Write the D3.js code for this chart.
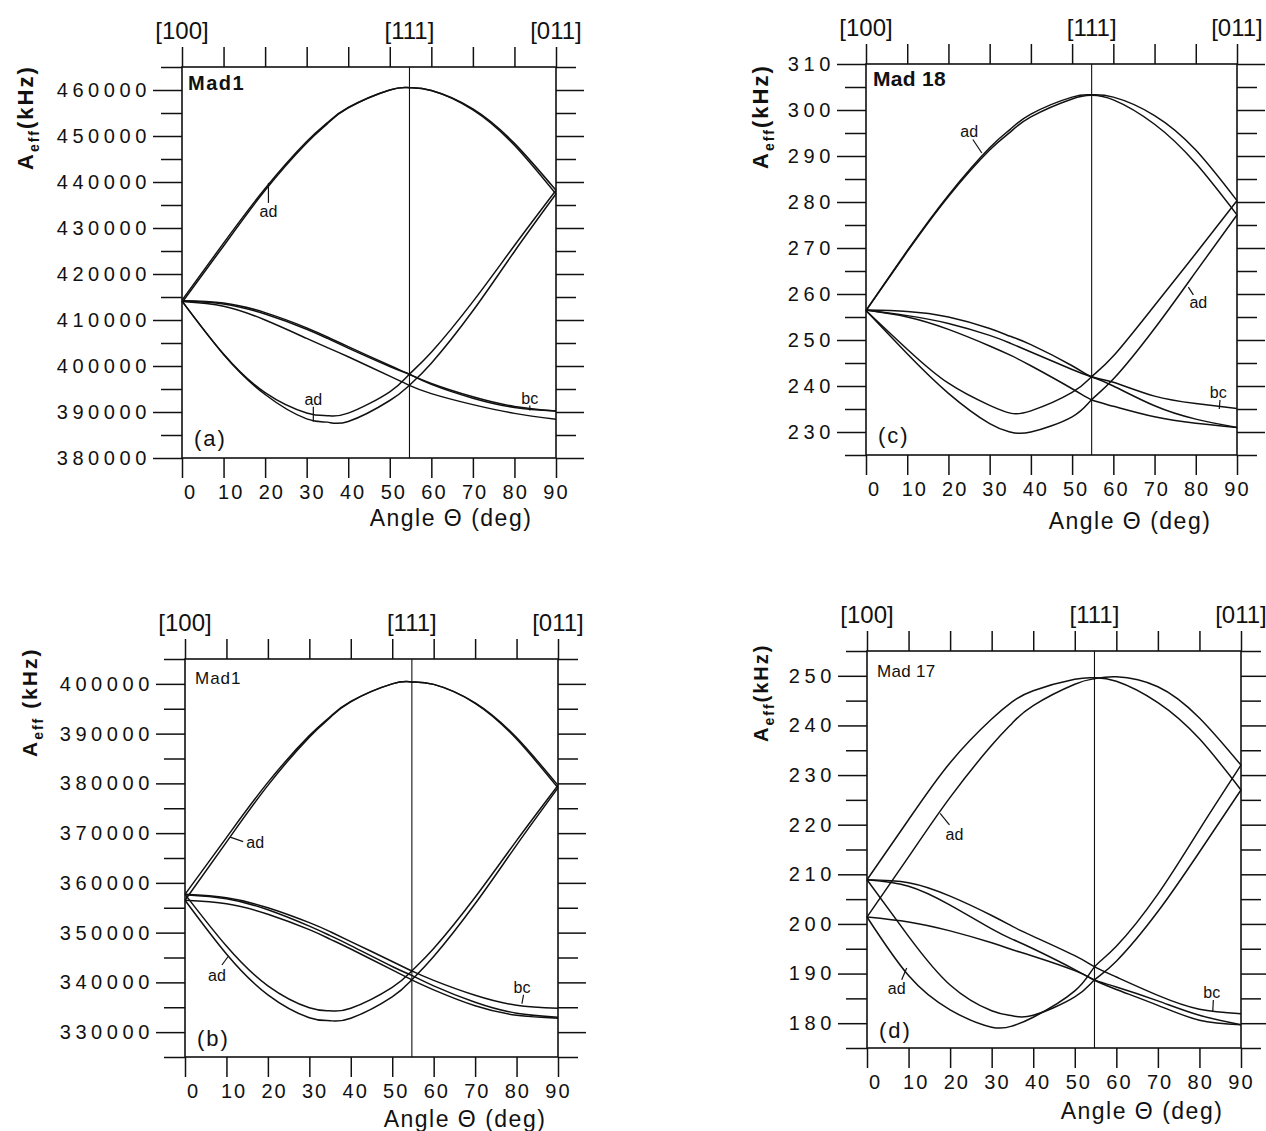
<!DOCTYPE html>
<html>
<head>
<meta charset="utf-8">
<script src="https://cdn.jsdelivr.net/npm/d3@7"></script>
<style>
 body { margin: 0; background: #fff; }
 svg text { font-family: "Liberation Sans", Arial, sans-serif; fill: #111; }
 .ynum { font-size: 20px; letter-spacing: 4.6px; }
 .xnum { font-size: 20px; letter-spacing: 2px; }
 .dir { font-size: 24px; }
 .xtitle { font-size: 23px; letter-spacing: 1.5px; }
 .ytitle { font-weight: bold; letter-spacing: 2px; }
 .note { font-size: 16px; }
 .tag { font-size: 22px; letter-spacing: 2px; }
</style>
</head>
<body>
<svg width="1266" height="1131"></svg>
<script>
var svg = d3.select("svg");

var angles = [0, 10, 20, 30, 35, 40, 50, 54.7, 60, 70, 80, 90];
var xTickValues = [0, 10, 20, 30, 40, 50, 60, 70, 80, 90];
var dirLabels = ["[100]", "[111]", "[011]"];
var dirAngles = [0, 54.74, 90];

// (a) Mad1
var aTicks = [380000, 390000, 400000, 410000, 420000, 430000, 440000, 450000, 460000];
var a_ad1 = [414300, 426700, 438600, 448800, 452900, 456200, 460000, 460500, 459900, 455900, 448400, 438200];
var a_ad2 = [413800, 426100, 438200, 448500, 452700, 456100, 460000, 460500, 459900, 455700, 448000, 437400];
var a_ad3 = [414100, 402600, 394200, 389800, 389200, 389750, 394400, 398200, 403000, 414000, 426200, 438200];
var a_ad4 = [414100, 402500, 393800, 388500, 387800, 387950, 392500, 395800, 400600, 412000, 424900, 437400];
var a_bc1 = [414200, 413700, 411600, 408300, 406300, 404200, 400100, 398200, 396000, 393000, 391000, 390200];
var a_bc2 = [414200, 413500, 411300, 408000, 406000, 403900, 399900, 398200, 396200, 393300, 391200, 390200];
var a_bc3 = [414000, 413000, 410000, 406000, 404000, 402000, 397800, 395800, 394000, 391600, 389700, 388400];
// label, angle, value of the point marked, leader end (px), text (px)
var aNotes = [["ad", 20.8, 439800, 0, 20, 0, 34], ["ad", 31.6, 387900, 0, -15, 0, -17], ["bc", 83.7, 390300, 0, -5, 0, -7]];

// (b) Mad1
var bTicks = [330000, 340000, 350000, 360000, 370000, 380000, 390000, 400000];
var b_ad1 = [357700, 369100, 380200, 389600, 393400, 396500, 400000, 400400, 399900, 396200, 389200, 379600];
var b_ad2 = [356500, 368200, 379600, 389300, 393200, 396400, 400000, 400400, 399900, 396100, 388900, 379100];
var b_ad3 = [357700, 347300, 339300, 334900, 334300, 334800, 339000, 342300, 346800, 357100, 368500, 379600];
var b_ad4 = [356500, 345700, 337500, 332900, 332300, 332800, 337100, 340500, 345200, 355800, 367600, 379100];
var b_bc1 = [357700, 357000, 355000, 352000, 350200, 348200, 344200, 342300, 340400, 337400, 335400, 334800];
var b_bc2 = [356500, 355800, 353700, 350600, 348700, 346700, 342500, 340500, 338500, 335300, 333400, 332800];
var b_bc3 = [357600, 356800, 354600, 351300, 349400, 347400, 343200, 341400, 339300, 336000, 333800, 333000];
var bNotes = [["ad", 10.9, 369200, 13, 4.5, 25, 11], ["ad", 10.5, 345300, -6.6, 9, -11.6, 24.5], ["bc", 81.3, 335700, 1.6, -9, 0, -11]];

// (c) Mad 18
var cTicks = [230, 240, 250, 260, 270, 280, 290, 300, 310];
var c_ad1 = [256.4, 269.4, 281.5, 291.8, 295.8, 299.1, 302.8, 303.3, 302.8, 298.8, 291.3, 280.3];
var c_ad2 = [256.4, 269.2, 281.2, 291.3, 295.2, 298.5, 302.4, 303.2, 302.2, 296.9, 288.4, 277.2];
var c_ad3 = [256.4, 248.0, 240.6, 235.8, 234.1, 234.6, 238.6, 242.0, 246.5, 257.5, 268.8, 280.3];
var c_ad4 = [256.4, 247.0, 238.4, 231.8, 230.0, 230.0, 233.3, 237.0, 241.5, 252.5, 264.8, 277.2];
var c_bc1 = [256.5, 256.2, 255.0, 252.5, 250.8, 249.0, 244.4, 242.0, 240.8, 237.8, 236.2, 235.1];
var c_bc2 = [256.5, 255.3, 253.6, 251.0, 249.3, 247.4, 243.6, 242.0, 240.0, 235.7, 232.8, 231.0];
var c_bc3 = [256.5, 255.0, 252.3, 248.7, 246.7, 244.4, 239.4, 237.0, 235.6, 233.3, 231.9, 231.0];
var cNotes = [["ad", 28.1, 290.65, -9, -13.5, -12.6, -16], ["ad", 78.2, 261.5, 5, 7.7, 10, 20.7], ["bc", 85.7, 235.0, 0.7, -9, -1, -11]];

// (d) Mad 17
var dTicks = [180, 190, 200, 210, 220, 230, 240, 250];
var d_ad1 = [208.9, 221.0, 232.5, 241.3, 244.8, 247.0, 249.3, 249.6, 248.9, 244.6, 237.3, 227.0];
var d_ad2 = [201.4, 213.5, 225.5, 236.0, 240.5, 244.0, 248.3, 249.4, 249.8, 247.8, 241.5, 232.0];
var d_ad3 = [208.9, 197.5, 187.7, 182.5, 181.5, 181.6, 185.3, 188.7, 192.5, 202.5, 214.5, 227.0];
var d_ad4 = [201.4, 189.6, 182.7, 179.2, 179.45, 181.2, 186.5, 191.3, 195.5, 206.0, 219.0, 232.0];
var d_bc1 = [208.9, 208.3, 205.6, 201.7, 199.5, 197.5, 193.6, 191.4, 189.3, 185.6, 182.8, 181.9];
var d_bc2 = [208.9, 207.6, 203.8, 199.0, 196.9, 195.0, 190.8, 188.7, 187.3, 184.5, 181.6, 179.7];
var d_bc3 = [201.4, 200.4, 198.6, 196.2, 194.8, 193.5, 190.6, 188.7, 186.8, 183.6, 180.6, 179.7];
var dNotes = [["ad", 17.6, 222.3, 9.3, 11.7, 14.3, 26.7], ["ad", 9.55, 191.1, -5, 11.7, -10, 25.7], ["bc", 83.2, 182.3, 0.6, -11.7, -1, -13.7]];

// layout of the four frames
var panels = [
 { tag: "(a)", name: "Mad1", x0: 182, x1: 556, yTop: 67, yBot: 458, dom: [380000, 465000], ticks: aTicks,
   curves: [a_ad1, a_ad2, a_ad3, a_ad4, a_bc1, a_bc2, a_bc3], notes: aNotes,
   nameSize: 20, nameWeight: "bold", nameLs: 1.5, nameDx: 6, nameDy: 23, tagDy: -12,
   yt: [33, 170, 22, ""], xt: [451, 526] },
 { tag: "(b)", name: "Mad1", x0: 185, x1: 558, yTop: 659, yBot: 1057, dom: [325000, 405000], ticks: bTicks,
   curves: [b_ad1, b_ad2, b_ad3, b_ad4, b_bc1, b_bc2, b_bc3], notes: bNotes,
   nameSize: 17, nameWeight: "normal", nameLs: 1, nameDx: 10, nameDy: 25, tagDy: -11,
   yt: [37, 757, 21, " "], xt: [465, 1127] },
 { tag: "(c)", name: "Mad 18", x0: 866, x1: 1237, yTop: 64, yBot: 455, dom: [225, 310], ticks: cTicks,
   curves: [c_ad1, c_ad2, c_ad3, c_ad4, c_bc1, c_bc2, c_bc3], notes: cNotes,
   nameSize: 21, nameWeight: "bold", nameLs: 0.3, nameDx: 7, nameDy: 22, tagDy: -12.5,
   yt: [768, 169, 22, ""], xt: [1130, 529] },
 { tag: "(d)", name: "Mad 17", x0: 867, x1: 1241, yTop: 651, yBot: 1048, dom: [175, 255], ticks: dTicks,
   curves: [d_ad1, d_ad2, d_ad3, d_ad4, d_bc1, d_bc2, d_bc3], notes: dNotes,
   nameSize: 17, nameWeight: "normal", nameLs: 0.3, nameDx: 10, nameDy: 26, tagDy: -10.5,
   yt: [768, 742, 20, ""], xt: [1142, 1119] }
];

function plainAxis(sel, w) {
  sel.select(".domain").remove();
  sel.selectAll("line").attr("stroke", "#111").attr("stroke-width", w);
}

panels.forEach(function(p) {
  var x = d3.scaleLinear().domain([0, 90]).range([p.x0, p.x1]);
  var y = d3.scaleLinear().domain(p.dom).range([p.yBot, p.yTop]);
  var g = svg.append("g");

  var step = p.ticks[1] - p.ticks[0];
  var minor = d3.range(p.dom[0], p.dom[1] + step / 4, step / 2)
    .filter(function(v) { return p.ticks.indexOf(v) < 0; });

  // left axis, labelled majors and shorter minors
  g.append("g").attr("transform", "translate(" + p.x0 + ",0)")
    .call(d3.axisLeft(y).tickValues(p.ticks).tickSize(29).tickPadding(2).tickFormat(d3.format("d")))
    .call(plainAxis, 1.5)
    .selectAll("text").attr("class", "ynum");
  g.append("g").attr("transform", "translate(" + p.x0 + ",0)")
    .call(d3.axisLeft(y).tickValues(minor).tickSize(21).tickFormat(""))
    .call(plainAxis, 1.5);
  // right axis, ticks only
  g.append("g").attr("transform", "translate(" + p.x1 + ",0)")
    .call(d3.axisRight(y).tickValues(p.ticks).tickSize(28).tickFormat(""))
    .call(plainAxis, 1.5);
  g.append("g").attr("transform", "translate(" + p.x1 + ",0)")
    .call(d3.axisRight(y).tickValues(minor).tickSize(20).tickFormat(""))
    .call(plainAxis, 1.5);
  // top and bottom ticks
  g.append("g").attr("transform", "translate(0," + p.yTop + ")")
    .call(d3.axisTop(x).tickValues(xTickValues).tickSize(20).tickFormat(""))
    .call(plainAxis, 1.5);
  g.append("g").attr("transform", "translate(0," + p.yBot + ")")
    .call(d3.axisBottom(x).tickValues(xTickValues).tickSize(20).tickFormat(""))
    .call(plainAxis, 1.5);

  // frame
  g.append("rect")
    .attr("x", p.x0).attr("y", p.yTop)
    .attr("width", p.x1 - p.x0).attr("height", p.yBot - p.yTop)
    .attr("fill", "none").attr("stroke", "#111").attr("stroke-width", 1.6);

  // [111] line
  g.append("line")
    .attr("x1", x(54.74)).attr("x2", x(54.74))
    .attr("y1", p.yTop).attr("y2", p.yBot)
    .attr("stroke", "#111").attr("stroke-width", 1.1);

  // x tick numbers sit a little right of their ticks
  g.selectAll(".xnum").data(xTickValues).enter().append("text")
    .attr("class", "xnum")
    .attr("x", function(d) { return x(d) + 8.5 - d * 0.09; })
    .attr("y", p.yBot + 41)
    .attr("text-anchor", "middle")
    .text(function(d) { return d; });

  // crystal directions on top
  g.selectAll(".dir").data(dirLabels).enter().append("text")
    .attr("class", "dir")
    .attr("x", function(d, i) { return x(dirAngles[i]); })
    .attr("y", p.yTop - 28)
    .attr("text-anchor", "middle")
    .text(function(d) { return d; });

  // curves
  var line = d3.line()
    .x(function(d, i) { return x(angles[i]); })
    .y(function(d) { return y(d); })
    .curve(d3.curveNatural);
  g.selectAll(".curve").data(p.curves).enter().append("path")
    .attr("class", "curve")
    .attr("d", line)
    .attr("fill", "none")
    .attr("stroke", "#111")
    .attr("stroke-width", 1.5);

  // ad / bc pointers
  p.notes.forEach(function(n) {
    var px = x(n[1]), py = y(n[2]);
    g.append("line")
      .attr("x1", px).attr("y1", py)
      .attr("x2", px + n[3]).attr("y2", py + n[4])
      .attr("stroke", "#111").attr("stroke-width", 1.2);
    g.append("text").attr("class", "note")
      .attr("x", px + n[5]).attr("y", py + n[6])
      .attr("text-anchor", "middle")
      .text(n[0]);
  });

  // sample name and panel letter
  g.append("text")
    .attr("x", p.x0 + p.nameDx).attr("y", p.yTop + p.nameDy)
    .style("font-size", p.nameSize + "px")
    .style("font-weight", p.nameWeight)
    .style("letter-spacing", p.nameLs + "px")
    .text(p.name);
  g.append("text").attr("class", "tag")
    .attr("x", p.x0 + 12).attr("y", p.yBot + p.tagDy)
    .text(p.tag);

  // axis titles
  g.append("text").attr("class", "xtitle")
    .attr("x", p.xt[0]).attr("y", p.xt[1])
    .attr("text-anchor", "middle")
    .text("Angle \u0398 (deg)");
  var yt = g.append("text").attr("class", "ytitle")
    .style("font-size", p.yt[2] + "px")
    .attr("transform", "translate(" + p.yt[0] + "," + p.yt[1] + ") rotate(-90)");
  yt.append("tspan").text("A");
  yt.append("tspan").style("font-size", "14px").attr("dy", 6).text("eff");
  yt.append("tspan").attr("dy", -6).text(p.yt[3] + "(kHz)");
});
</script>
</body>
</html>
